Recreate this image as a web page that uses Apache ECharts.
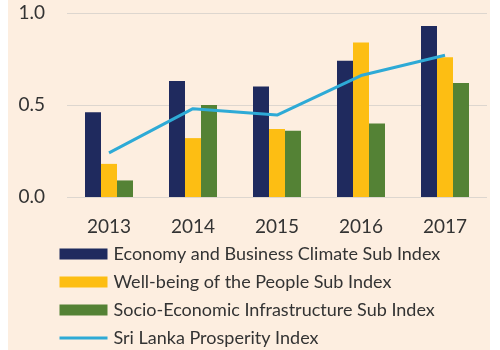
<!DOCTYPE html>
<html>
<head>
<meta charset="utf-8">
<script src="https://cdn.jsdelivr.net/npm/echarts@6/dist/echarts.min.js"></script>
<style>
  html, body { margin: 0; padding: 0; background: #fff; }
  #main { width: 500px; height: 350px; }
</style>
</head>
<body>
<div id="main"></div>
<script>
// 数据
var years = ['2013', '2014', '2015', '2016', '2017'];
var economy = [0.46, 0.63, 0.60, 0.74, 0.93];
var wellbeing = [0.18, 0.32, 0.37, 0.84, 0.76];
var infra = [0.09, 0.50, 0.36, 0.40, 0.62];
var prosperity = [0.24, 0.48, 0.445, 0.66, 0.77];
var yTicks = [0, 0.5, 1.0];

(function () {
    var myChart = echarts.init(document.getElementById('main'));
    var font = 'Lato';
    var option = {
        color: ['#1f2a5e', '#fdbe13', '#548235', '#2eaad6'],
        animation: false,
        graphic: [{
            type: 'rect',
            z: -10,
            shape: { x: 8, y: 0, width: 482, height: 350 },
            style: { fill: '#fdeee0' }
        }],
        grid: {
            left: 67,
            right: 13,
            top: 13,
            height: 184
        },
        legend: {
            orient: 'vertical',
            left: 58,
            top: 245,
            itemWidth: 48,
            itemHeight: 11,
            itemGap: 10,
            padding: 0,
            textStyle: { color: '#333', fontSize: 18, lineHeight: 18, fontFamily: font, padding: [0, 0, 0, 1] },
            data: [
                { name: 'Economy and Business Climate Sub Index', icon: 'rect' },
                { name: 'Well-being of the People Sub Index', icon: 'rect' },
                { name: 'Socio-Economic Infrastructure Sub Index', icon: 'rect' },
                { name: 'Sri Lanka Prosperity Index', itemStyle: { opacity: 0 }, lineStyle: { width: 3 } }
            ]
        },
        xAxis: {
            type: 'category',
            data: years,
            axisLine: { show: false },
            axisTick: { show: false },
            axisLabel: { color: '#333', fontSize: 19, fontFamily: font, margin: 20 }
        },
        yAxis: {
            type: 'value',
            min: 0,
            max: 1,
            interval: 0.5,
            axisLine: { show: false },
            axisTick: { show: false },
            axisLabel: {
                color: '#333', fontSize: 19, fontFamily: font, margin: 22,
                formatter: function (v) { return v.toFixed(1); }
            },
            splitLine: { lineStyle: { color: '#ddd6cf', width: 1 } }
        },
        series: [{
            name: 'Economy and Business Climate Sub Index',
            type: 'bar',
            data: economy,
            barWidth: 16,
            barGap: '0%'
        }, {
            name: 'Well-being of the People Sub Index',
            type: 'bar',
            data: wellbeing,
            barWidth: 16,
            barGap: '0%'
        }, {
            name: 'Socio-Economic Infrastructure Sub Index',
            type: 'bar',
            data: infra,
            barWidth: 16,
            barGap: '0%'
        }, {
            name: 'Sri Lanka Prosperity Index',
            type: 'line',
            data: prosperity,
            symbol: 'none',
            lineStyle: { width: 3 },
            z: 5
        }]
    };
    myChart.setOption(option);
})();
</script>
</body>
</html>
